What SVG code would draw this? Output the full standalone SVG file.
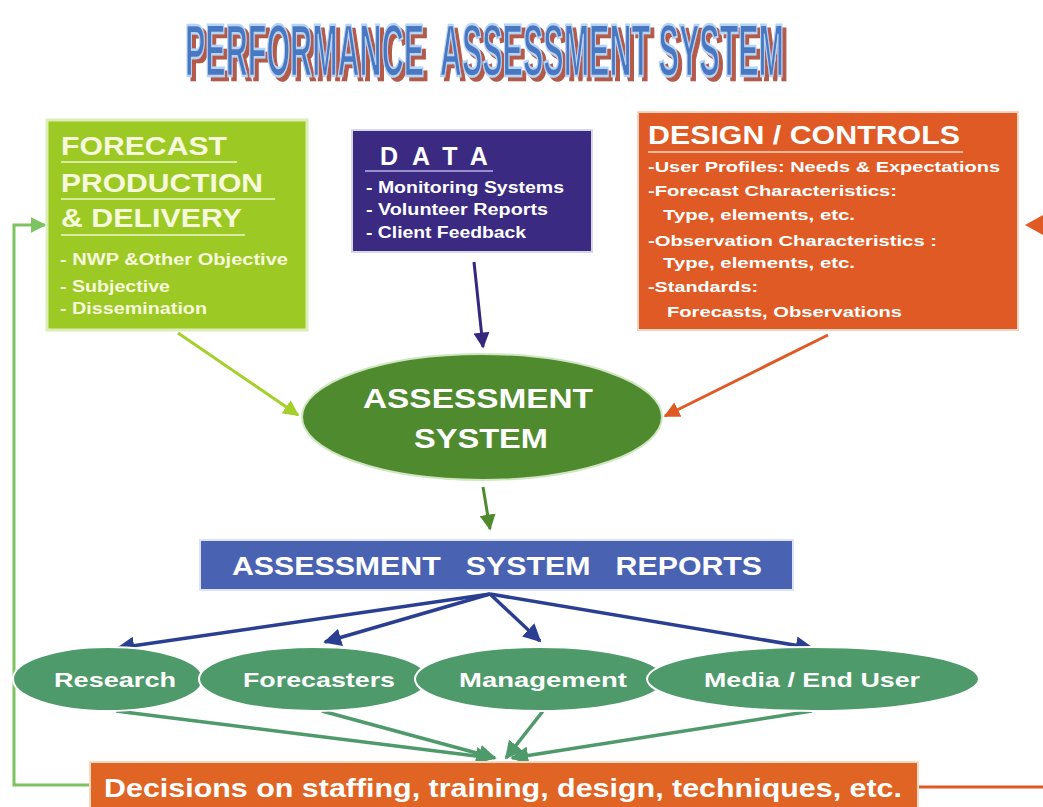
<svg xmlns="http://www.w3.org/2000/svg" width="1043" height="807" viewBox="0 0 1043 807">
<style>
.t{font-family:"Liberation Sans",Arial,sans-serif;font-weight:bold}
.lw{fill:#f6f9dc}
.w{fill:#ffffff}
.ul{stroke-width:1.5;fill:none}
</style>
<defs>
<filter id="shadow" x="-10%" y="-30%" width="120%" height="170%">
<feFlood flood-color="#b45a4a"/>
<feComposite in2="SourceAlpha" operator="in"/>
<feOffset dx="4" dy="4" result="sh"/>
<feMerge><feMergeNode in="sh"/><feMergeNode in="SourceGraphic"/></feMerge>
</filter>
<marker id="aLime" viewBox="0 0 10 10" refX="9" refY="5" markerWidth="16" markerHeight="16" markerUnits="userSpaceOnUse" orient="auto"><path d="M0,0L10,5L0,10z" fill="#a5cf2a"/></marker>
<marker id="aPur" viewBox="0 0 10 10" refX="9" refY="5" markerWidth="16" markerHeight="16" markerUnits="userSpaceOnUse" orient="auto"><path d="M0,0L10,5L0,10z" fill="#35287f"/></marker>
<marker id="aOr" viewBox="0 0 10 10" refX="9" refY="5" markerWidth="16" markerHeight="16" markerUnits="userSpaceOnUse" orient="auto"><path d="M0,0L10,5L0,10z" fill="#e05a25"/></marker>
<marker id="aGr" viewBox="0 0 10 10" refX="9" refY="5" markerWidth="16" markerHeight="16" markerUnits="userSpaceOnUse" orient="auto"><path d="M0,0L10,5L0,10z" fill="#4f8b2e"/></marker>
<marker id="aBl" viewBox="0 0 10 10" refX="9" refY="5" markerWidth="18" markerHeight="18" markerUnits="userSpaceOnUse" orient="auto"><path d="M0,0L10,5L0,10z" fill="#2b3f92"/></marker>
<marker id="aSg" viewBox="0 0 10 10" refX="9" refY="5" markerWidth="18" markerHeight="18" markerUnits="userSpaceOnUse" orient="auto"><path d="M0,0L10,5L0,10z" fill="#4e9a6b"/></marker>
<marker id="aFb" viewBox="0 0 10 10" refX="9" refY="5" markerWidth="16" markerHeight="16" markerUnits="userSpaceOnUse" orient="auto"><path d="M0,0L10,5L0,10z" fill="#7cc462"/></marker>
</defs>
<rect width="1043" height="807" fill="#ffffff"/>

<g id="title" filter="url(#shadow)">
<text class="t" transform="translate(185,76) scale(0.4124,1)" x="0" y="0" font-size="74" fill="#4a78c2" stroke="#b8d4f4" stroke-width="2.5" xml:space="preserve">PERFORMANCE  ASSESSMENT SYSTEM</text>
</g>

<g id="connectors" fill="none">
<line x1="178" y1="333" x2="298" y2="415" stroke="#a5cf2a" stroke-width="3" marker-end="url(#aLime)"/>
<line x1="474" y1="262" x2="483" y2="347" stroke="#35287f" stroke-width="3" marker-end="url(#aPur)"/>
<line x1="828" y1="335" x2="665" y2="416" stroke="#e05a25" stroke-width="3" marker-end="url(#aOr)"/>
<line x1="483" y1="487" x2="490" y2="529" stroke="#4f8b2e" stroke-width="3" marker-end="url(#aGr)"/>
<g stroke="#2b3f92" stroke-width="3.5">
<line x1="490" y1="594" x2="118" y2="648" marker-end="url(#aBl)"/>
<line x1="490" y1="594" x2="325" y2="642" marker-end="url(#aBl)"/>
<line x1="490" y1="594" x2="540" y2="641" marker-end="url(#aBl)"/>
<line x1="490" y1="594" x2="812" y2="648" marker-end="url(#aBl)"/>
</g>
<g stroke="#4e9a6b" stroke-width="3.5">
<line x1="116" y1="711" x2="492" y2="758" marker-end="url(#aSg)"/>
<line x1="322" y1="711" x2="495" y2="758" marker-end="url(#aSg)"/>
<line x1="543" y1="711" x2="506" y2="758" marker-end="url(#aSg)"/>
<line x1="812" y1="711" x2="512" y2="758" marker-end="url(#aSg)"/>
</g>
<polyline points="90,785 14,785 14,225 45,225" stroke="#7cc462" stroke-width="3" marker-end="url(#aFb)"/>
<polyline points="918,787 1043,787" stroke="#e05a25" stroke-width="3"/>
<path d="M1043,215L1025,225L1043,235z" fill="#e05a25"/>
</g>

<g id="forecast">
<rect x="47" y="120" width="260" height="210" fill="#9dc925" stroke="#dbeeb8" stroke-width="3"/>
<text class="t lw" x="61" y="155" font-size="25" textLength="166" lengthAdjust="spacingAndGlyphs">FORECAST</text>
<line class="ul" x1="61" y1="162" x2="237" y2="162" stroke="#eef6c8"/>
<text class="t lw" x="61" y="192" font-size="25" textLength="202" lengthAdjust="spacingAndGlyphs">PRODUCTION</text>
<line class="ul" x1="61" y1="199" x2="275" y2="199" stroke="#eef6c8"/>
<text class="t lw" x="61" y="227" font-size="25" textLength="181" lengthAdjust="spacingAndGlyphs">&amp; DELIVERY</text>
<line class="ul" x1="61" y1="235" x2="245" y2="235" stroke="#eef6c8"/>
<text class="t lw" x="60" y="265" font-size="16" textLength="228" lengthAdjust="spacingAndGlyphs">- NWP &amp;Other Objective</text>
<text class="t lw" x="60" y="292" font-size="16" textLength="110" lengthAdjust="spacingAndGlyphs">- Subjective</text>
<text class="t lw" x="60" y="314" font-size="16" textLength="147" lengthAdjust="spacingAndGlyphs">- Dissemination</text>
</g>

<g id="data">
<rect x="352" y="130" width="240" height="122" fill="#3a2a82" stroke="#d8d6ea" stroke-width="2"/>
<text class="t w" x="380" y="165" font-size="25" letter-spacing="14">DATA</text>
<line class="ul" x1="365" y1="171" x2="493" y2="171" stroke="#b9b2e6"/>
<text class="t w" x="366" y="193" font-size="16" textLength="198" lengthAdjust="spacingAndGlyphs">- Monitoring Systems</text>
<text class="t w" x="366" y="215" font-size="16" textLength="182" lengthAdjust="spacingAndGlyphs">- Volunteer Reports</text>
<text class="t w" x="366" y="238" font-size="16" textLength="160" lengthAdjust="spacingAndGlyphs">- Client Feedback</text>
</g>

<g id="design">
<rect x="638" y="112" width="380" height="218" fill="#e05a25" stroke="#f5d4c0" stroke-width="2"/>
<text class="t w" x="648" y="144" font-size="25" textLength="312" lengthAdjust="spacingAndGlyphs">DESIGN / CONTROLS</text>
<line class="ul" x1="648" y1="152" x2="963" y2="152" stroke="#f8d8c4"/>
<g font-size="15.5">
<text class="t w" x="648" y="172" textLength="352" lengthAdjust="spacingAndGlyphs">-User Profiles: Needs &amp; Expectations</text>
<text class="t w" x="648" y="196" textLength="249" lengthAdjust="spacingAndGlyphs">-Forecast Characteristics:</text>
<text class="t w" x="663" y="220" textLength="192" lengthAdjust="spacingAndGlyphs">Type, elements, etc.</text>
<text class="t w" x="648" y="246" textLength="289" lengthAdjust="spacingAndGlyphs">-Observation Characteristics :</text>
<text class="t w" x="663" y="268" textLength="192" lengthAdjust="spacingAndGlyphs">Type, elements, etc.</text>
<text class="t w" x="648" y="292" textLength="110" lengthAdjust="spacingAndGlyphs">-Standards:</text>
<text class="t w" x="667" y="317" textLength="235" lengthAdjust="spacingAndGlyphs">Forecasts, Observations</text>
</g>
</g>

<g id="assessment">
<ellipse cx="482" cy="417" rx="180" ry="63" fill="#4f8b2e" stroke="#cfe6c0" stroke-width="2"/>
<text class="t w" x="478" y="408" font-size="28" text-anchor="middle" textLength="230" lengthAdjust="spacingAndGlyphs">ASSESSMENT</text>
<text class="t w" x="481" y="448" font-size="28" text-anchor="middle" textLength="134" lengthAdjust="spacingAndGlyphs">SYSTEM</text>
</g>

<g id="reports">
<rect x="200" y="540" width="593" height="50" fill="#4a62b2" stroke="#dde3f3" stroke-width="2"/>
<text class="t w" x="232" y="575" font-size="25" textLength="530" lengthAdjust="spacingAndGlyphs" xml:space="preserve">ASSESSMENT   SYSTEM   REPORTS</text>
</g>

<g id="research">
<ellipse cx="108" cy="679" rx="95" ry="32" fill="#4e9a6b" stroke="#ffffff" stroke-width="2"/>
<text class="t w" x="115" y="687" font-size="21" text-anchor="middle" textLength="122" lengthAdjust="spacingAndGlyphs">Research</text>
</g>
<g id="forecasters">
<ellipse cx="314" cy="679" rx="115" ry="32" fill="#4e9a6b" stroke="#ffffff" stroke-width="2"/>
<text class="t w" x="319" y="687" font-size="21" text-anchor="middle" textLength="152" lengthAdjust="spacingAndGlyphs">Forecasters</text>
</g>
<g id="management">
<ellipse cx="540" cy="679" rx="125" ry="32" fill="#4e9a6b" stroke="#ffffff" stroke-width="2"/>
<text class="t w" x="543" y="687" font-size="21" text-anchor="middle" textLength="168" lengthAdjust="spacingAndGlyphs">Management</text>
</g>
<g id="media">
<ellipse cx="813" cy="679" rx="166" ry="32" fill="#4e9a6b" stroke="#ffffff" stroke-width="2"/>
<text class="t w" x="812" y="687" font-size="21" text-anchor="middle" textLength="216" lengthAdjust="spacingAndGlyphs">Media / End User</text>
</g>

<g id="decisions">
<rect x="90" y="762" width="828" height="47" fill="#e06424" stroke="#f6d8c4" stroke-width="2"/>
<text class="t w" x="104" y="797" font-size="25" textLength="798" lengthAdjust="spacingAndGlyphs">Decisions on staffing, training, design, techniques, etc.</text>
</g>
</svg>
